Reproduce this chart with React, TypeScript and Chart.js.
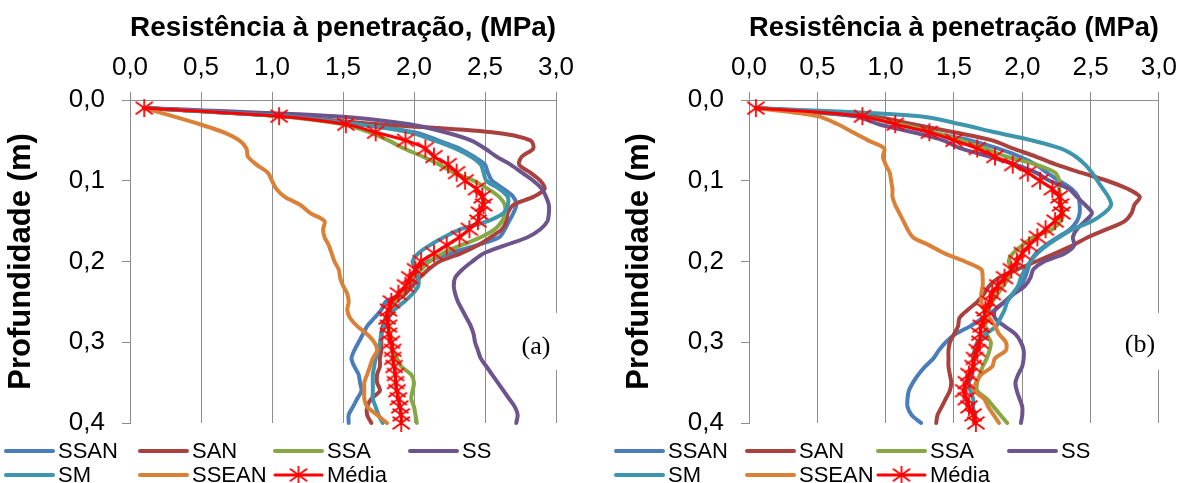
import React, { useEffect, useRef } from 'react';
import { Chart, registerables } from 'chart.js';

Chart.register(...registerables);

// ---------- data ----------
const DEPTHS = [
  0.01, 0.02, 0.03, 0.04, 0.05, 0.06, 0.07, 0.08, 0.09, 0.10,
  0.11, 0.12, 0.13, 0.14, 0.15, 0.16, 0.17, 0.18, 0.19, 0.20,
  0.21, 0.22, 0.23, 0.24, 0.25, 0.26, 0.27, 0.28, 0.29, 0.30,
  0.31, 0.32, 0.33, 0.34, 0.35, 0.36, 0.37, 0.38, 0.39, 0.40,
];

const SERIES_NAMES = ['SSAN', 'SAN', 'SSA', 'SS', 'SM', 'SSEAN', 'Média'];
const SERIES_COLORS = ['#4A7EBB', '#A9423F', '#86A844', '#6E548D', '#3D96AE', '#DA8137', '#FF0000'];

const X_TICKS = [0, 0.5, 1.0, 1.5, 2.0, 2.5, 3.0];
const Y_TICKS = [0, 0.1, 0.2, 0.3, 0.4];

const TITLE_A = 'Resistência à penetração, (MPa)';
const TITLE_B = 'Resistência à penetração (MPa)';
const Y_TITLE = 'Profundidade (m)';
const LABEL_A = '(a)';
const LABEL_B = '(b)';

// Panel (a)
const A_SSAN = [0.10, 1.08, 1.62, 2.00, 2.17, 2.32, 2.42, 2.50, 2.52, 2.55, 2.63, 2.70, 2.72, 2.70, 2.67, 2.64, 2.60, 2.44, 2.25, 2.10, 2.02, 1.99, 1.96, 1.91, 1.80, 1.77, 1.72, 1.67, 1.64, 1.61, 1.58, 1.56, 1.58, 1.61, 1.62, 1.63, 1.60, 1.57, 1.54, 1.54];
const A_SAN = [0.10, 1.10, 1.75, 2.55, 2.82, 2.84, 2.76, 2.74, 2.82, 2.89, 2.92, 2.84, 2.70, 2.66, 2.65, 2.62, 2.54, 2.45, 2.33, 2.18, 2.10, 2.04, 1.99, 1.94, 1.87, 1.82, 1.80, 1.78, 1.77, 1.77, 1.77, 1.76, 1.76, 1.74, 1.74, 1.76, 1.70, 1.67, 1.67, 1.70];
const A_SSA = [0.10, 1.05, 1.50, 1.69, 1.82, 1.93, 2.06, 2.18, 2.28, 2.42, 2.52, 2.60, 2.64, 2.64, 2.62, 2.57, 2.47, 2.33, 2.20, 2.11, 2.05, 1.99, 1.95, 1.91, 1.86, 1.83, 1.82, 1.82, 1.83, 1.84, 1.85, 1.88, 1.91, 1.98, 2.00, 1.99, 1.98, 2.00, 2.01, 2.02];
const A_SS = [0.10, 1.45, 1.97, 2.22, 2.40, 2.50, 2.58, 2.68, 2.76, 2.84, 2.90, 2.93, 2.95, 2.95, 2.94, 2.89, 2.80, 2.64, 2.49, 2.41, 2.34, 2.29, 2.28, 2.29, 2.31, 2.34, 2.37, 2.40, 2.42, 2.43, 2.45, 2.47, 2.51, 2.55, 2.59, 2.63, 2.67, 2.71, 2.73, 2.72];
const A_SM = [0.10, 1.08, 1.60, 1.97, 2.14, 2.29, 2.40, 2.47, 2.49, 2.51, 2.60, 2.66, 2.66, 2.63, 2.52, 2.33, 2.21, 2.11, 2.03, 1.99, 2.01, 2.03, 2.03, 1.99, 1.93, 1.86, 1.82, 1.79, 1.77, 1.76, 1.75, 1.73, 1.72, 1.71, 1.71, 1.71, 1.71, 1.73, 1.75, 1.78];
const A_SSEAN = [0.10, 0.30, 0.49, 0.66, 0.77, 0.82, 0.83, 0.89, 0.97, 1.00, 1.03, 1.09, 1.20, 1.27, 1.37, 1.36, 1.37, 1.40, 1.42, 1.44, 1.47, 1.48, 1.50, 1.53, 1.54, 1.53, 1.55, 1.60, 1.67, 1.72, 1.74, 1.71, 1.69, 1.67, 1.65, 1.65, 1.65, 1.67, 1.74, 1.81];
const A_MEDIA = [0.10, 1.05, 1.52, 1.73, 1.94, 2.08, 2.14, 2.24, 2.30, 2.36, 2.44, 2.48, 2.49, 2.46, 2.45, 2.39, 2.32, 2.23, 2.14, 2.05, 2.01, 1.97, 1.94, 1.89, 1.84, 1.82, 1.81, 1.82, 1.82, 1.84, 1.85, 1.85, 1.86, 1.87, 1.87, 1.88, 1.89, 1.90, 1.91, 1.91];

// Panel (b)
const B_SSAN = [0.05, 0.85, 1.12, 1.32, 1.62, 1.82, 1.98, 2.10, 2.18, 2.27, 2.36, 2.41, 2.42, 2.42, 2.40, 2.35, 2.26, 2.17, 2.10, 2.06, 2.04, 2.02, 1.99, 1.93, 1.87, 1.80, 1.71, 1.62, 1.51, 1.44, 1.39, 1.35, 1.29, 1.24, 1.20, 1.17, 1.16, 1.16, 1.19, 1.26];
const B_SAN = [0.05, 0.90, 1.20, 1.50, 1.78, 1.93, 2.10, 2.25, 2.43, 2.62, 2.77, 2.86, 2.82, 2.80, 2.75, 2.62, 2.48, 2.37, 2.24, 2.10, 1.96, 1.83, 1.76, 1.72, 1.67, 1.60, 1.54, 1.53, 1.50, 1.47, 1.46, 1.46, 1.46, 1.47, 1.48, 1.47, 1.44, 1.41, 1.38, 1.37];
const B_SSA = [0.05, 0.80, 1.10, 1.35, 1.55, 1.73, 1.88, 2.10, 2.24, 2.27, 2.27, 2.28, 2.28, 2.30, 2.28, 2.22, 2.08, 2.00, 1.93, 1.90, 1.92, 1.90, 1.86, 1.82, 1.78, 1.75, 1.74, 1.73, 1.74, 1.77, 1.76, 1.74, 1.71, 1.69, 1.67, 1.67, 1.74, 1.79, 1.84, 1.89];
const B_SS = [0.05, 0.78, 0.95, 1.20, 1.42, 1.55, 1.76, 1.95, 2.10, 2.20, 2.34, 2.40, 2.46, 2.51, 2.46, 2.40, 2.37, 2.38, 2.31, 2.16, 2.08, 2.06, 2.02, 1.94, 1.87, 1.80, 1.80, 1.87, 1.95, 1.99, 2.01, 2.01, 2.00, 1.97, 1.95, 1.96, 1.98, 2.00, 2.00, 1.99];
const B_SM = [0.05, 1.25, 1.55, 1.80, 2.07, 2.28, 2.39, 2.46, 2.51, 2.55, 2.59, 2.63, 2.65, 2.60, 2.51, 2.37, 2.27, 2.18, 2.11, 2.06, 2.02, 1.99, 1.97, 1.93, 1.89, 1.87, 1.84, 1.81, 1.73, 1.67, 1.65, 1.64, 1.64, 1.63, 1.61, 1.62, 1.64, 1.64, 1.65, 1.66];
const B_SSEAN = [0.05, 0.50, 0.65, 0.76, 0.87, 0.99, 0.98, 1.00, 1.03, 1.04, 1.05, 1.05, 1.07, 1.10, 1.13, 1.16, 1.20, 1.32, 1.43, 1.58, 1.70, 1.71, 1.71, 1.70, 1.70, 1.72, 1.76, 1.80, 1.83, 1.88, 1.88, 1.80, 1.78, 1.70, 1.66, 1.65, 1.72, 1.75, 1.79, 1.83];
const B_MEDIA = [0.05, 0.83, 1.07, 1.32, 1.50, 1.67, 1.80, 1.93, 2.04, 2.13, 2.22, 2.27, 2.28, 2.29, 2.24, 2.17, 2.11, 2.05, 2.00, 1.96, 1.92, 1.87, 1.82, 1.78, 1.76, 1.73, 1.72, 1.70, 1.69, 1.69, 1.67, 1.65, 1.64, 1.61, 1.59, 1.57, 1.59, 1.61, 1.64, 1.66];

const PANEL_A = [A_SSAN, A_SAN, A_SSA, A_SS, A_SM, A_SSEAN, A_MEDIA];
const PANEL_B = [B_SSAN, B_SAN, B_SSA, B_SS, B_SM, B_SSEAN, B_MEDIA];

// ---------- styling ----------
const FONT = "'Liberation Sans', Arial, sans-serif";
const GRID = '#8c8c8c';
const W = 593;
const H = 483;

Chart.defaults.font.family = FONT;
Chart.defaults.color = '#000';

const fmt = (v: number | string) => Number(v).toFixed(1).replace('.', ',');

function makeStar(size: number, color: string): HTMLCanvasElement {
  const c = document.createElement('canvas');
  c.width = size;
  c.height = size;
  const g = c.getContext('2d')!;
  g.strokeStyle = color;
  g.lineWidth = 1.8;
  g.lineCap = 'butt';
  const m = size / 2;
  const r = size / 2 - 1;
  g.beginPath();
  g.moveTo(m, m - r);
  g.lineTo(m, m + r);
  g.moveTo(m - r * 0.95, m - r * 0.7);
  g.lineTo(m + r * 0.95, m + r * 0.7);
  g.moveTo(m - r * 0.95, m + r * 0.7);
  g.lineTo(m + r * 0.95, m - r * 0.7);
  g.stroke();
  return c;
}

const overlayPlugin = {
  id: 'overlay',
  afterDraw(chart: any, _args: any, opts: any) {
    const ctx: CanvasRenderingContext2D = chart.ctx;
    ctx.save();
    // panel label with white box
    const b = opts.box;
    ctx.fillStyle = '#fff';
    ctx.fillRect(b[0], b[1], b[2], b[3]);
    ctx.fillStyle = '#000';
    ctx.font = "26px 'Liberation Serif', 'Times New Roman', serif";
    ctx.textAlign = 'center';
    ctx.textBaseline = 'middle';
    ctx.fillText(opts.label, opts.labelX, opts.labelY);

    // legend
    ctx.font = `22px ${FONT}`;
    ctx.textAlign = 'left';
    chart.data.datasets.forEach((ds: any, i: number) => {
      const row = Math.floor(i / 4);
      const col = i % 4;
      const x0 = opts.cols[col];
      const y = opts.rows[row];
      ctx.strokeStyle = ds.borderColor;
      ctx.lineWidth = ds.borderWidth;
      ctx.lineCap = 'round';
      ctx.beginPath();
      ctx.moveTo(x0, y);
      ctx.lineTo(x0 + opts.lineLen, y);
      ctx.stroke();
      if (ds.pointStyle && typeof ds.pointStyle === 'object') {
        const img = ds.pointStyle as HTMLCanvasElement;
        ctx.drawImage(img, x0 + opts.lineLen / 2 - img.width / 2, y - img.height / 2);
      }
      ctx.fillStyle = '#000';
      ctx.fillText(ds.label, x0 + opts.lineLen + 5, y + 1);
    });
    ctx.restore();
  },
};

interface PanelCfg {
  series: number[][];
  title: string;
  label: string;
  yWidth: number;
  rightPad: number;
  yTickPad: number;
  yTitlePad: number;
  cols: number[];
  labelX: number;
  labelY: number;
  box: number[];
}

function Panel({ cfg, left }: { cfg: PanelCfg; left: number }) {
  const ref = useRef<HTMLCanvasElement>(null);
  useEffect(() => {
    const star = makeStar(20, '#FF0000');
    const orders = [6, 5, 4, 3, 2, 1, 0];
    const datasets = cfg.series.map((vals, i) => {
      const isMean = i === 6;
      return {
        label: SERIES_NAMES[i],
        data: DEPTHS.map((d, k) => ({ x: vals[k], y: d })),
        borderColor: SERIES_COLORS[i],
        backgroundColor: SERIES_COLORS[i],
        borderWidth: isMean ? 3 : 4,
        showLine: true,
        tension: 0.3,
        borderCapStyle: 'round',
        borderJoinStyle: 'round',
        pointRadius: isMean ? 10 : 0,
        pointHoverRadius: isMean ? 10 : 0,
        pointStyle: isMean ? star : 'circle',
        clip: false,
        order: orders[i],
      };
    });
    const chart = new Chart(ref.current!, {
      type: 'scatter',
      data: { datasets } as any,
      plugins: [overlayPlugin as any],
      options: {
        responsive: false,
        animation: false,
        devicePixelRatio: 1,
        events: [],
        layout: { padding: { left: 0, top: 0, right: cfg.rightPad, bottom: 60 } },
        plugins: {
          legend: { display: false },
          tooltip: { enabled: false },
          overlay: {
            label: cfg.label,
            labelX: cfg.labelX,
            labelY: cfg.labelY,
            box: cfg.box,
            cols: cfg.cols,
            rows: [451, 475],
            lineLen: 47,
          },
        } as any,
        scales: {
          x: {
            type: 'linear',
            position: 'top',
            min: X_TICKS[0],
            max: X_TICKS[X_TICKS.length - 1],
            afterFit: (s: any) => {
              s.height = 100;
            },
            afterBuildTicks: (s: any) => {
              s.ticks = X_TICKS.map((v) => ({ value: v }));
            },
            ticks: {
              font: { size: 26 },
              color: '#000',
              padding: 9,
              maxRotation: 0,
              autoSkip: false,
              callback: (v: any) => fmt(v),
            },
            grid: { color: GRID, lineWidth: 1, tickLength: 8, drawTicks: true },
            border: { display: true, color: GRID, width: 1 },
            title: {
              display: true,
              text: cfg.title,
              font: { size: 28, weight: 'bold' },
              color: '#000',
              padding: { top: 11, bottom: 0 },
            },
          },
          y: {
            type: 'linear',
            position: 'left',
            reverse: true,
            min: Y_TICKS[0],
            max: Y_TICKS[Y_TICKS.length - 1],
            afterFit: (s: any) => {
              s.width = cfg.yWidth;
            },
            afterBuildTicks: (s: any) => {
              s.ticks = Y_TICKS.map((v) => ({ value: v }));
            },
            ticks: {
              font: { size: 26 },
              color: '#000',
              padding: cfg.yTickPad,
              autoSkip: false,
              callback: (v: any) => fmt(v),
            },
            grid: { drawOnChartArea: false, drawTicks: true, tickLength: 8, color: GRID, lineWidth: 1 },
            border: { display: true, color: GRID, width: 1 },
            title: {
              display: true,
              text: Y_TITLE,
              font: { size: 31, weight: 'bold' },
              color: '#000',
              padding: { top: cfg.yTitlePad, bottom: 0 },
            },
          },
        },
      } as any,
    });
    return () => chart.destroy();
  }, []);
  return (
    <canvas
      ref={ref}
      width={W}
      height={H}
      style={{ position: 'absolute', left, top: 0, width: W, height: H }}
    />
  );
}

const CFG_A: PanelCfg = {
  series: PANEL_A,
  title: TITLE_A,
  label: LABEL_A,
  yWidth: 130,
  rightPad: 37,
  yTickPad: 17,
  yTitlePad: 3,
  cols: [6, 140, 275, 410],
  labelX: 536,
  labelY: 347,
  box: [512, 313, 50, 57],
};

const CFG_B: PanelCfg = {
  series: PANEL_B,
  title: TITLE_B,
  label: LABEL_B,
  yWidth: 156,
  rightPad: 23,
  yTickPad: 17,
  yTitlePad: 28,
  cols: [23, 154, 285, 416],
  labelX: 547,
  labelY: 345,
  box: [522, 313, 52, 57],
};

export default function App() {
  return (
    <div style={{ position: 'fixed', left: 0, top: 0, width: 1186, height: 483, background: '#fff' }}>
      <Panel cfg={CFG_A} left={0} />
      <Panel cfg={CFG_B} left={593} />
    </div>
  );
}
